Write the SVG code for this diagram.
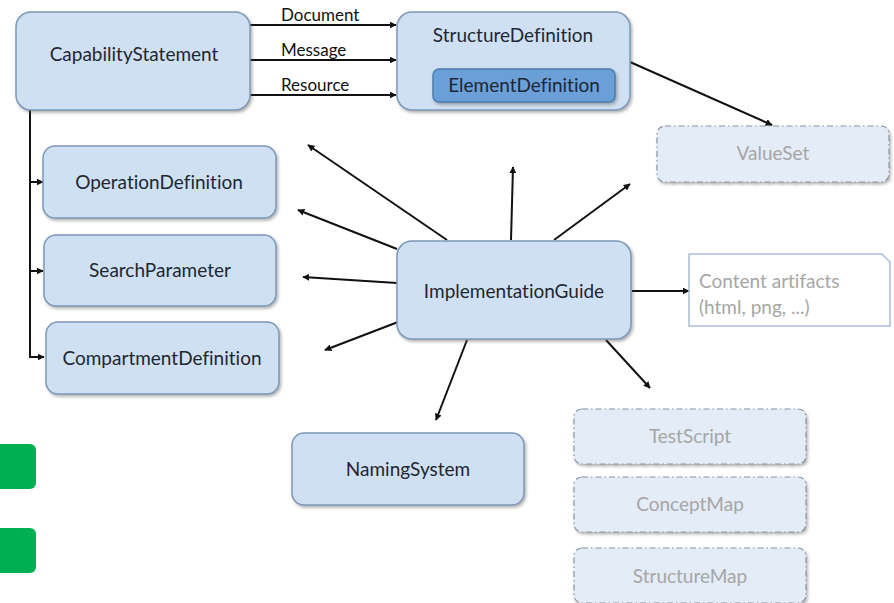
<svg xmlns="http://www.w3.org/2000/svg" width="894" height="603" viewBox="0 0 894 603">
<defs>
<marker id="ah" viewBox="0 0 10 10" refX="9" refY="5" markerWidth="7" markerHeight="7" markerUnits="userSpaceOnUse" orient="auto">
<path d="M0,0 L10,5 L0,10 z" fill="#111"/>
</marker>
<filter id="sh" x="-10%" y="-10%" width="125%" height="130%">
<feDropShadow dx="1.5" dy="2" stdDeviation="1.5" flood-color="#555" flood-opacity="0.45"/>
</filter>
<style>
.box{fill:#cfe0f2;stroke:#7d98b8;stroke-width:1.5;filter:url(#sh)}
.inner{fill:#6a9fd8;stroke:#4d7bb0;stroke-width:1.5;filter:url(#sh)}
.dash{fill:#e3ecf7;stroke:#8a96a4;stroke-width:1.2;stroke-dasharray:6 3 1.5 3;filter:url(#sh)}
text{font-variant-ligatures:none}
.t{font-family:Lato,"Noto Sans","Liberation Sans",sans-serif;font-size:19px;fill:#1e2732;text-anchor:middle}
.g{fill:#a6a6a6}
.s{text-anchor:start}
.lab{font-family:Lato,"Noto Sans","Liberation Sans",sans-serif;font-size:17px;fill:#111}
.c{stroke:#111;stroke-width:2;fill:none}
</style>
</defs>
<g id="connectors">
<line class="c" x1="250" y1="25" x2="396" y2="25" marker-end="url(#ah)"/>
<line class="c" x1="250" y1="60" x2="396" y2="60" marker-end="url(#ah)"/>
<line class="c" x1="250" y1="95" x2="396" y2="95" marker-end="url(#ah)"/>
<line class="c" x1="630" y1="62" x2="772" y2="125" marker-end="url(#ah)"/>
<polyline class="c" points="30,110 30,357 44,357" marker-end="url(#ah)"/>
<line class="c" x1="30" y1="182" x2="43" y2="182" marker-end="url(#ah)"/>
<line class="c" x1="30" y1="271" x2="43" y2="271" marker-end="url(#ah)"/>
<line class="c" x1="447" y1="240" x2="308" y2="145" marker-end="url(#ah)"/>
<line class="c" x1="397" y1="249" x2="298" y2="210" marker-end="url(#ah)"/>
<line class="c" x1="397" y1="283" x2="303" y2="277" marker-end="url(#ah)"/>
<line class="c" x1="398" y1="322" x2="325" y2="350" marker-end="url(#ah)"/>
<line class="c" x1="511" y1="240" x2="513" y2="167" marker-end="url(#ah)"/>
<line class="c" x1="554" y1="240" x2="630" y2="184" marker-end="url(#ah)"/>
<line class="c" x1="632" y1="291" x2="689" y2="291" marker-end="url(#ah)"/>
<line class="c" x1="606" y1="340" x2="650" y2="388" marker-end="url(#ah)"/>
<line class="c" x1="467" y1="340" x2="436" y2="420" marker-end="url(#ah)"/>
<text class="lab" x="281" y="21">Document</text>
<text class="lab" x="281" y="56">Message</text>
<text class="lab" x="281" y="91">Resource</text>
</g>
<g id="capabilityStatement">
<rect class="box" x="16" y="12" width="234" height="98" rx="15"/>
<text class="t" x="134" y="61">CapabilityStatement</text>
</g>
<g id="structureDefinition">
<rect class="box" x="397" y="12" width="233" height="98" rx="15"/>
<text class="t" x="513" y="42">StructureDefinition</text>
</g>
<g id="elementDefinition">
<rect class="inner" x="433" y="69" width="182" height="33" rx="6"/>
<text class="t" x="524" y="92">ElementDefinition</text>
</g>
<g id="valueSet">
<rect class="dash" x="657" y="126" width="232" height="56" rx="8"/>
<text class="t g" x="773" y="160">ValueSet</text>
</g>
<g id="operationDefinition">
<rect class="box" x="43" y="146" width="233" height="72" rx="12"/>
<text class="t" x="159" y="189">OperationDefinition</text>
</g>
<g id="searchParameter">
<rect class="box" x="44" y="235" width="232" height="71" rx="12"/>
<text class="t" x="160" y="277">SearchParameter</text>
</g>
<g id="compartmentDefinition">
<rect class="box" x="46" y="322" width="233" height="72" rx="12"/>
<text class="t" x="162" y="365">CompartmentDefinition</text>
</g>
<g id="implementationGuide">
<rect class="box" x="397" y="241" width="234" height="98" rx="15"/>
<text class="t" x="514" y="298">ImplementationGuide</text>
</g>
<g id="contentArtifacts">
<path d="M689,254 H882 L890,262 V326 H689 Z" fill="#fff" stroke="#a9bfd6" stroke-width="1.5"/>
<text class="t g s" x="699" y="288">Content artifacts</text>
<text class="t g s" x="699" y="314">(html, png, ...)</text>
</g>
<g id="namingSystem">
<rect class="box" x="292" y="433" width="232" height="72" rx="12"/>
<text class="t" x="408" y="476">NamingSystem</text>
</g>
<g id="testScript">
<rect class="dash" x="574" y="409" width="232" height="55" rx="8"/>
<text class="t g" x="690" y="443">TestScript</text>
</g>
<g id="conceptMap">
<rect class="dash" x="574" y="477" width="232" height="55" rx="8"/>
<text class="t g" x="690" y="511">ConceptMap</text>
</g>
<g id="structureMap">
<rect class="dash" x="574" y="548" width="232" height="55" rx="8"/>
<text class="t g" x="690" y="583">StructureMap</text>
</g>
<g id="greenMarks">
<rect x="-8" y="444" width="44" height="45" rx="6" fill="#00b050"/>
<rect x="-8" y="528" width="44" height="45" rx="6" fill="#00b050"/>
</g>
</svg>
